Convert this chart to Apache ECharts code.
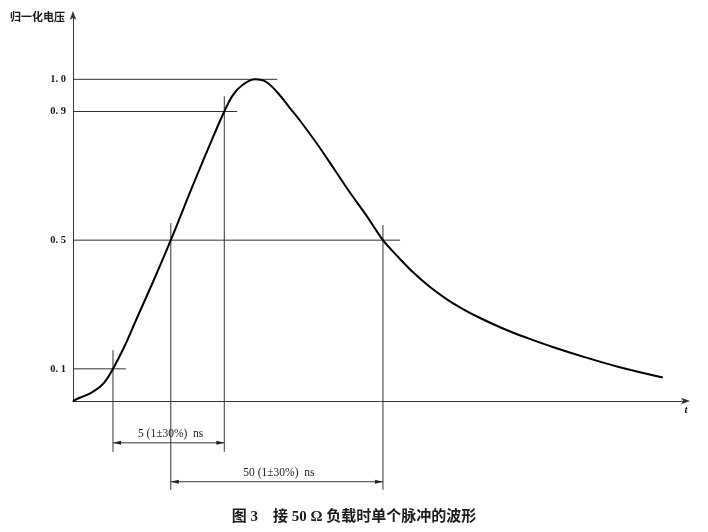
<!DOCTYPE html>
<html>
<head>
<meta charset="utf-8">
<script src="https://cdn.jsdelivr.net/npm/echarts@6/dist/echarts.min.js"></script>
<style>
html,body{margin:0;padding:0;background:#fff;}
#chart{width:708px;height:532px;}
</style>
</head>
<body>
<div id="chart"></div>
<script>
// Curve (arbitrary time units, normalised voltage)
var times = [0,1.1,2.8,4.4,5.5,6.5,7.3,8.5,10.4,13.0,15.9,19.5,22.8,24.6,26.0,27.6,29.6,31.5,33.7,35.3,36.9,39.7,42.3,45.0,47.8,50.4,52.7,55.3,58.0,60.8,63.4,66.2,68.9,71.5,74.3,78.0,83.6,88.9,95.9];
var volts = [0,0.010,0.024,0.044,0.068,0.100,0.129,0.175,0.258,0.370,0.500,0.671,0.822,0.900,0.951,0.983,1.000,0.991,0.949,0.910,0.872,0.799,0.726,0.649,0.574,0.500,0.451,0.400,0.355,0.316,0.286,0.258,0.234,0.213,0.193,0.168,0.134,0.105,0.073];

// Tick labels / reference levels
var levelValues = [0.1, 0.5, 0.9, 1.0];
var levelEnds   = [8.6, 53.2, 26.7, 33.2];

// Vertical marker lines: time, top value, bottom value
var vertTimes   = [6.5, 15.9, 24.6, 50.4];
var vertTops    = [0.158, 0.553, 0.947, 0.547];
var vertBottoms = [-0.158, -0.276, -0.158, -0.276];

// Dimension arrows
var dimStarts = [6.5, 15.9];
var dimEnds   = [24.6, 50.4];
var dimLevels = [-0.130, -0.251];
var dimLabels = ['5 (1\u00B130%)  ns', '50 (1\u00B130%)  ns'];

var yName = '归一化电压';
var xName = 't';
var caption = '图 3　接 50 Ω 负载时单个脉冲的波形';

var serif = '"Liberation Serif", "DejaVu Serif", "Noto Sans CJK SC", serif';
var ink = '#1a1a1a';

var chart = echarts.init(document.getElementById('chart'));

function zip(a, b) { return a.map(function (v, i) { return [v, b[i]]; }); }

chart.setOption({
  animation: false,
  backgroundColor: '#fff',
  title: {
    text: caption,
    left: 'center',
    top: 505,
    textStyle: { fontFamily: serif, fontSize: 15, fontWeight: 'bold', color: ink }
  },
  grid: { left: 73, right: 20, top: 15, bottom: 131, containLabel: false },
  xAxis: {
    type: 'value', min: 0, max: 100,
    name: xName, nameLocation: 'end', nameGap: -2,
    nameTextStyle: { fontFamily: serif, fontStyle: 'italic', fontWeight: 'bold', fontSize: 11, color: ink, align: 'center', verticalAlign: 'top', padding: [4, 0, 0, 0] },
    axisLine: { onZero: true, symbol: ['none', 'arrow'], symbolSize: [5, 9], symbolOffset: [0, 2], lineStyle: { color: '#333', width: 1 } },
    axisTick: { show: false }, axisLabel: { show: false }, splitLine: { show: false }
  },
  yAxis: {
    type: 'value', min: 0, max: 1.2,
    name: yName, nameLocation: 'end', nameGap: -3,
    nameTextStyle: { fontFamily: serif, fontWeight: 'bold', fontSize: 11, color: ink, align: 'right', verticalAlign: 'middle', padding: [0, 8, 0, 0] },
    axisLine: { show: true, symbol: ['none', 'arrow'], symbolSize: [5, 9], symbolOffset: [0, 4], lineStyle: { color: '#333', width: 1 } },
    axisTick: { show: false },
    splitLine: { show: false },
    axisLabel: {
      customValues: levelValues,
      margin: 7,
      fontFamily: serif, fontSize: 10.5, fontWeight: 'bold', color: ink,
      formatter: function (v) { return v.toFixed(1).replace('.', '. '); }
    }
  },
  series: [
    {
      type: 'line', data: zip(times, volts), smooth: 0.35, symbol: 'none',
      lineStyle: { color: '#000', width: 2 }, z: 5
    },
    {
      type: 'custom', clip: false, silent: true,
      data: zip(levelValues, levelEnds),
      renderItem: function (params, api) {
        var a = api.coord([0, api.value(0)]);
        var b = api.coord([api.value(1), api.value(0)]);
        return { type: 'line', shape: { x1: a[0], y1: a[1], x2: b[0], y2: b[1] }, style: { stroke: '#333', lineWidth: 1 } };
      }
    },
    {
      type: 'custom', clip: false, silent: true,
      data: vertTimes.map(function (t, i) { return [t, vertTops[i], vertBottoms[i]]; }),
      renderItem: function (params, api) {
        var a = api.coord([api.value(0), api.value(1)]);
        var b = api.coord([api.value(0), api.value(2)]);
        return { type: 'line', shape: { x1: a[0], y1: a[1], x2: b[0], y2: b[1] }, style: { stroke: '#333', lineWidth: 1 } };
      }
    },
    {
      type: 'custom', clip: false, silent: true,
      data: dimStarts.map(function (s, i) { return [s, dimLevels[i], dimEnds[i]]; }),
      renderItem: function (params, api) {
        var a = api.coord([api.value(0), api.value(1)]);
        var b = api.coord([api.value(2), api.value(1)]);
        var y = a[1];
        return {
          type: 'group',
          children: [
            { type: 'line', shape: { x1: a[0], y1: y, x2: b[0], y2: y }, style: { stroke: '#333', lineWidth: 1 } },
            { type: 'polygon', shape: { points: [[a[0], y], [a[0] + 8, y - 2], [a[0] + 8, y + 2]] }, style: { fill: '#222' } },
            { type: 'polygon', shape: { points: [[b[0], y], [b[0] - 8, y - 2], [b[0] - 8, y + 2]] }, style: { fill: '#222' } },
            { type: 'text', x: (a[0] + b[0]) / 2 + 2, y: y - 9,
              style: { text: dimLabels[params.dataIndex], fontFamily: serif, fontSize: 11.5, fill: ink, align: 'center', verticalAlign: 'middle' } }
          ]
        };
      }
    }
  ]
});
</script>
</body>
</html>
